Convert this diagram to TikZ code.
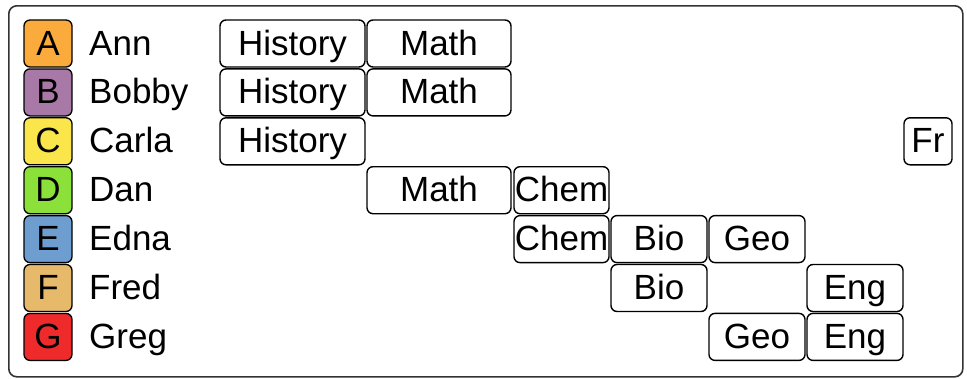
\documentclass[tikz,border=0pt]{standalone}
\usepackage{fontspec}
\setmainfont{Liberation Sans}
\definecolor{cA}{HTML}{FBAA3C}
\definecolor{cB}{HTML}{A878A6}
\definecolor{cC}{HTML}{FAE64A}
\definecolor{cD}{HTML}{8BE13A}
\definecolor{cE}{HTML}{6E9ED0}
\definecolor{cF}{HTML}{E6B96B}
\definecolor{cG}{HTML}{EE2A2A}
\tikzset{
  lbl/.style={inner sep=0pt, text height=24pt, text depth=1pt},
  letterbox/.style={lbl, draw=black, line width=1.3pt, rounded corners=6pt, minimum width=48pt, minimum height=47pt},
  namelbl/.style={lbl, anchor=west},
  course/.style={lbl, draw=black, line width=1.4pt, rounded corners=6pt, minimum height=47pt},
  frame/.style={draw=black!80, line width=1.6pt, rounded corners=8pt},
}
\begin{document}
\begin{tikzpicture}[x=1pt,y=-1pt, font=\fontsize{35}{40}\selectfont]
\useasboundingbox (0,0) rectangle (967,378);
\node[frame, inner sep=0pt, minimum width=954pt, minimum height=371pt, anchor=north west] (fr) at (8,5) {};
% rows
\foreach \L/\N/\c [count=\i from 0] in {A/Ann/cA, B/Bobby/cB, C/Carla/cC, D/Dan/cD, E/Edna/cE, F/Fred/cF, G/Greg/cG}{
  \pgfmathsetmacro{\yc}{43.5+48.9*\i}
  \node[letterbox, fill=\c] (L\L) at (48,\yc) {\L};
  \node[namelbl] (N\L) at (89,\yc) {\N};
}
% column widths and centres
\def\rowy#1{43.5+48.9*#1}
% Ann
\node[course, minimum width=145pt] (A1) at (292.5,43.5) {History};
\node[course, minimum width=144pt] (A2) at (439,43.5) {Math};
% Bobby
\node[course, minimum width=145pt] (B1) at (292.5,92.4) {History};
\node[course, minimum width=144pt] (B2) at (439,92.4) {Math};
% Carla
\node[course, minimum width=145pt] (C1) at (292.5,141.3) {History};
\node[course, minimum width=48pt] (C7) at (928,141.3) {Fr};
% Dan
\node[course, minimum width=144pt] (D2) at (439,190.2) {Math};
\node[course, minimum width=95pt] (D3) at (561.5,190.2) {Chem};
% Edna
\node[course, minimum width=95pt] (E3) at (561.5,239.1) {Chem};
\node[course, minimum width=96pt] (E4) at (659,239.1) {Bio};
\node[course, minimum width=96pt] (E5) at (757,239.1) {Geo};
% Fred
\node[course, minimum width=96pt] (F4) at (659,288) {Bio};
\node[course, minimum width=96pt] (F6) at (855,288) {Eng};
% Greg
\node[course, minimum width=96pt] (G5) at (757,336.9) {Geo};
\node[course, minimum width=96pt] (G6) at (855,336.9) {Eng};
\end{tikzpicture}
\end{document}
